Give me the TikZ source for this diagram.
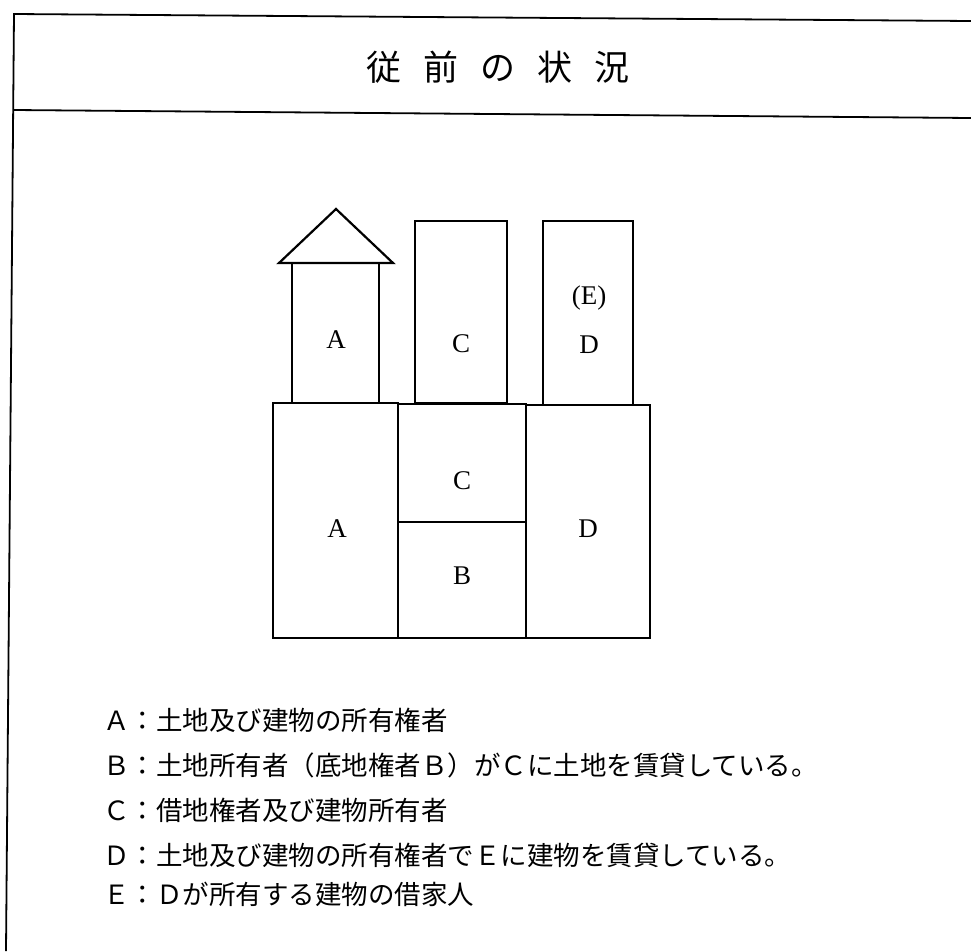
\documentclass[tikz,border=0pt]{standalone}
\usepackage{fontspec}
\setmainfont{Liberation Serif}
\newfontfamily\jpfont{Noto Sans CJK JP}
\tikzset{
  frameline/.style={line width=1.8pt, black},
  bldg/.style={line width=2.2pt, black, line join=miter},
  boxlabel/.style={font=\fontsize{27}{29}\selectfont, inner sep=0pt},
  legend/.style={font=\jpfont\fontsize{26.5}{30}\selectfont, anchor=west, inner sep=0pt},
  titletext/.style={font=\jpfont\fontsize{35}{38}\selectfont, inner sep=0pt}
}
\begin{document}
\begin{tikzpicture}[x=1pt,y=-1pt]
\useasboundingbox (0,0) rectangle (971,951);
% frame
\coordinate (tl) at (14,14);
\coordinate (tr) at (971,21);
\coordinate (ml) at (14,110);
\coordinate (mr) at (971,118);
\coordinate (bl) at (6,951);
\draw[frameline] (tr) -- (tl) -- (bl);
\draw[frameline] (ml) -- (mr);
% title
\node[titletext] (title) at (498,67) {従\hspace{22pt}前\hspace{22pt}の\hspace{22pt}状\hspace{22pt}況};
% buildings
\draw[bldg] (279,263) -- (336,209) -- (393,263) -- cycle;
\draw[bldg] (292,263) rectangle (379,403);
\draw[bldg] (415,221) rectangle (507,403);
\draw[bldg] (543,221) rectangle (633,405);
% land
\draw[bldg] (273,403) rectangle (398,638);
\draw[bldg] (398,404) rectangle (526,522);
\draw[bldg] (398,522) rectangle (526,638);
\draw[bldg] (526,405) rectangle (650,638);
% labels
\node[boxlabel] (la1) at (336,340) {A};
\node[boxlabel] (lc1) at (461,344) {C};
\node[boxlabel] (le) at (589,298) {(E)};
\node[boxlabel] (ld1) at (589,345) {D};
\node[boxlabel] (lc2) at (462,481) {C};
\node[boxlabel] (la2) at (337,529) {A};
\node[boxlabel] (ld2) at (588,529) {D};
\node[boxlabel] (lb) at (462,576) {B};
% legend
\node[legend] (ta) at (103,720) {Ａ：土地及び建物の所有権者};
\node[legend] (tb) at (103,765) {Ｂ：土地所有者（底地権者Ｂ）がＣに土地を賃貸している。};
\node[legend] (tc) at (103,810) {Ｃ：借地権者及び建物所有者};
\node[legend] (td) at (103,855) {Ｄ：土地及び建物の所有権者でＥに建物を賃貸している。};
\node[legend] (te) at (103,894) {Ｅ：Ｄが所有する建物の借家人};
\end{tikzpicture}
\end{document}
